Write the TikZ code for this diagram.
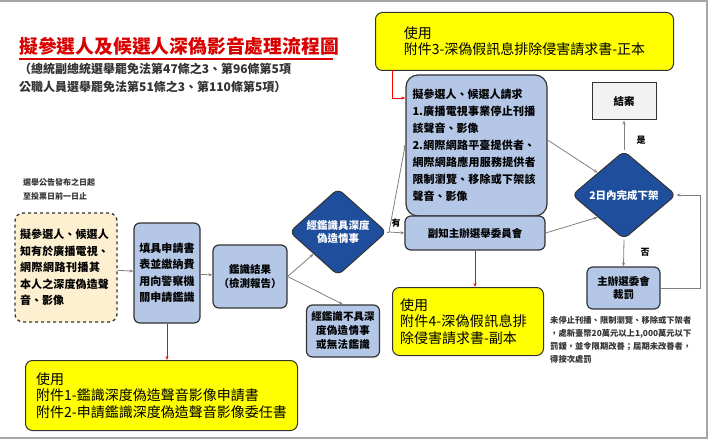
\documentclass[tikz,border=0pt]{standalone}
\usepackage{fontspec}
\setmainfont{Noto Sans CJK TC}
\XeTeXlinebreaklocale "zh"
\XeTeXlinebreakskip=0pt plus 1pt
\usetikzlibrary{shapes.geometric,arrows.meta}
\definecolor{lb}{HTML}{B4C7E7}
\definecolor{db}{HTML}{1F4E9C}
\definecolor{yl}{HTML}{FFFF00}
\definecolor{cr}{HTML}{FDF0D0}
\begin{document}
\begin{tikzpicture}[x=1pt,y=-1pt,
 box/.style={draw=black!80,line width=1.2pt,fill=lb,rounded corners=6pt,align=center,font=\fontsize{10.5}{13.5}\selectfont\bfseries,inner sep=2pt},
 ybox/.style={draw=black!80,line width=1pt,fill=yl,rounded corners=7pt,align=left,font=\fontsize{14}{16.5}\selectfont,inner sep=5pt,anchor=north west},
 dia/.style={diamond,draw=black!80,line width=1pt,fill=db,text=white,align=center,font=\fontsize{10.5}{13.5}\selectfont\bfseries,inner sep=0pt,rounded corners=6pt},
 ar/.style={draw=gray,line width=0.8pt,-{Stealth[length=4pt]}},
 rar/.style={draw=red,line width=0.8pt,-{Stealth[length=4pt]}}]
\useasboundingbox (0,0) rectangle (710,441);
\draw[gray!70,line width=1.5pt] (0,1) -- (707,1) -- (707,438) -- (0,438);
\node[anchor=west,text=red!85!black,font=\fontsize{18.8}{20}\selectfont\bfseries,inner sep=0pt] (title) at (19,46) {擬參選人及候選人深偽影音處理流程圖};
\draw[red!85!black,line width=1.5pt] (19,59) -- (333,59);
\node[anchor=north west,align=left,font=\fontsize{12}{18}\selectfont\bfseries,text=black!80,inner sep=0pt] (sub) at (19,63) {（總統副總統選舉罷免法第47條之3、第96條第5項\\公職人員選舉罷免法第51條之3、第110條第5項）};
\node[anchor=north west,align=left,font=\fontsize{8}{14}\selectfont\bfseries,text=black!80,inner sep=0pt] (when) at (23,178) {選舉公告發布之日起\\至投票日前一日止};
\node[draw=black!80,dashed,line width=1.3pt,fill=cr,rounded corners=8pt,minimum width=102pt,minimum height=109pt,align=left,font=\fontsize{11}{16.5}\selectfont\bfseries,text width=92pt] (cand) at (66,267.5) {擬參選人、候選人知有於廣播電視、網際網路刊播其本人之深度偽造聲音、影像};
\node[box,minimum width=66pt,minimum height=100pt,text width=56pt,font=\fontsize{11}{16.5}\selectfont\bfseries] (apply) at (167,273) {填具申請書表並繳納費用向警察機關申請鑑識};
\node[box,minimum width=74pt,minimum height=63pt] (result) at (250,276.5) {鑑識結果\\（檢測報告）};
\node[dia,minimum width=97pt,minimum height=80pt] (deep) at (338,232) {經鑑識具深度\\偽造情事};
\node[box,minimum width=73pt,minimum height=52pt,text width=66pt,font=\fontsize{10.5}{14}\selectfont\bfseries] (nodeep) at (343,331) {經鑑識不具深度偽造情事或無法鑑識};
\node[ybox,minimum width=298pt,minimum height=58pt] (y3) at (375,12) {使用\\附件3-深偽假訊息排除侵害請求書-正本};
\node[box,minimum width=141pt,minimum height=141pt,text width=128pt,align=left,font=\fontsize{11}{17}\selectfont\bfseries,rounded corners=12pt] (req) at (476.5,145.5) {擬參選人、候選人請求\\1.廣播電視事業停止刊播該聲音、影像\\2.網際網路平臺提供者、網際網路應用服務提供者限制瀏覽、移除或下架該聲音、影像};
\node[box,minimum width=140pt,minimum height=34pt] (notify) at (475,233) {副知主辦選舉委員會};
\node[ybox,minimum width=151pt,minimum height=68pt,text width=136pt] (y4) at (392,287) {使用\\附件4-深偽假訊息排除侵害請求書-副本};
\node[ybox,minimum width=272pt,minimum height=70pt] (y12) at (25,360) {使用\\附件1-鑑識深度偽造聲音影像申請書\\附件2-申請鑑識深度偽造聲音影像委任書};
\node[dia,minimum width=104pt,minimum height=88pt] (two) at (624,195) {2日內完成下架};
\node[draw=black!80,line width=1pt,fill=black!5,minimum width=64pt,minimum height=37pt,font=\fontsize{10.5}{12}\selectfont\bfseries] (close) at (624,101.5) {結案};
\node[box,minimum width=73pt,minimum height=42pt] (fine) at (623.5,288) {主辦選委會\\裁罰};
\node[anchor=north west,align=left,font=\fontsize{8.3}{13}\selectfont\bfseries,text=black!80,inner sep=0pt] (pen) at (550,316) {未停止刊播、限制瀏覽、移除或下架者\\，處新臺幣20萬元以上1,000萬元以下\\罰鍰，並令限期改善；屆期未改善者，\\得按次處罰};
\node[font=\fontsize{9}{10}\selectfont\bfseries] (yes) at (641,140) {是};
\node[font=\fontsize{9}{10}\selectfont\bfseries] (no) at (645,252) {否};
\node[font=\fontsize{9}{10}\selectfont\bfseries] (has) at (396,223) {有};
\coordinate (br) at (389,232);
\coordinate (loop) at (700,288);
\draw[ar] (cand) -- (apply);
\draw[ar] (apply) -- (result);
\draw[ar] (result.east) -- (deep.south west);
\draw[ar] (result.east) -- (nodeep.north);
\draw[draw=gray,line width=0.8pt] (deep.east) -- (br);
\draw[ar] (br) -- (notify.west);
\draw[ar] (br) -- (req.west |- 0,144);
\draw[ar] (req.east |- 0,140) -- (two.north west);
\draw[ar] (notify.east) -- (two.south west);
\draw[ar] (two.north) -- (close.south);
\draw[ar] (two.south) -- (fine.north);
\draw[ar] (fine.east) -- (loop) |- (two.east);
\draw[rar] (apply.south) -- (apply.south |- y12.north);
\draw[rar] (notify.south) -- (notify.south |- y4.north);
\draw[rar] (392,70) |- (req.west |- 0,98);
\end{tikzpicture}
\end{document}
